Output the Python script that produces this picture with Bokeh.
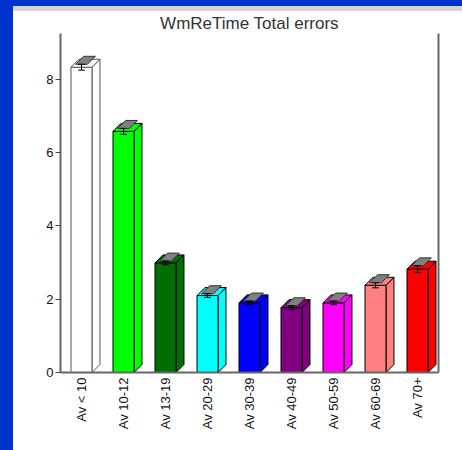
import math
from bokeh.plotting import figure
from bokeh.models import Range1d, FixedTicker, LinearAxis
from bokeh.embed import file_html
from bokeh.resources import INLINE

# ---- data ----
categories = ["Av < 10", "Av 10-12", "Av 13-19", "Av 20-29", "Av 30-39",
              "Av 40-49", "Av 50-59", "Av 60-69", "Av 70+"]
means = [8.33, 6.58, 2.99, 2.10, 1.90, 1.77, 1.90, 2.38, 2.82]
errors = [0.08, 0.08, 0.05, 0.05, 0.05, 0.05, 0.05, 0.07, 0.09]
y_ticks = [0, 2, 4, 6, 8]

# ---- styles ----
colors = ["#FFFFFF", "#00FF00", "#006E00", "#00FFFF", "#0000FF",
          "#800080", "#FF00FF", "#FF8080", "#FF0000"]
outlines = ["#555555"] + ["#000000"] * 8
FONT = "Liberation Sans"

n = len(categories)
centers = [i + 0.5 for i in range(n)]
half = 0.25          # half width of front face (slot units)
dx, dy = 0.19, 0.218  # 3D depth offset in data units (~8px each way)
sw = 0.14            # half width of gray error slab

p = figure(width=462, height=450, output_backend="svg", toolbar_location=None,
           x_range=Range1d(0, n), y_range=Range1d(0, 9.25),
           min_border_left=60, min_border_right=24, min_border_top=33,
           min_border_bottom=78, title="WmReTime Total errors")
p.styles = {"background": "linear-gradient(to right, #0033CC 13px, transparent 13px), "
                          "linear-gradient(to bottom, #0033CC 6px, #D4D4D4 6px, "
                          "#D4D4D4 11px, #FFFFFF 11px)"}
p.background_fill_color = "white"
p.border_fill_color = None
p.outline_line_color = None
p.xgrid.visible = False
p.ygrid.visible = False

p.title.align = "center"
p.title.text_font = FONT
p.title.text_font_size = "17px"
p.title.text_font_style = "normal"
p.title.text_color = "#333333"
p.title.standoff = 1

side_xs, side_ys, top_xs, top_ys, slab_xs, slab_ys = [], [], [], [], [], []
for c, v, e in zip(centers, means, errors):
    l, r = c - half, c + half
    side_xs.append([r, r + dx, r + dx, r])
    side_ys.append([0, dy, v + dy, v])
    top_xs.append([l, l + dx, r + dx, r])
    top_ys.append([v, v + dy, v + dy, v])
    slab_xs.append([c - sw, c - sw + dx, c + sw + dx, c + sw])
    slab_ys.append([v + e, v + e + dy, v + e + dy, v + e])

p.patches(side_xs, side_ys, fill_color=colors, line_color=outlines, line_width=1)
p.vbar(x=centers, width=2 * half, top=means, bottom=0,
       fill_color=colors, line_color=outlines, line_width=1)
p.patches(top_xs, top_ys, fill_color=colors, line_color=outlines, line_width=1)
p.patches(slab_xs, slab_ys, fill_color="#808080", line_color="#333333", line_width=1)

# front error bars (I shape)
lo = [v - e for v, e in zip(means, errors)]
hi = [v + e for v, e in zip(means, errors)]
p.segment(x0=centers, y0=lo, x1=centers, y1=hi, line_color="black", line_width=1)
p.segment(x0=[c - 0.08 for c in centers], y0=lo, x1=[c + 0.08 for c in centers], y1=lo,
          line_color="black", line_width=1)
p.segment(x0=[c - 0.08 for c in centers], y0=hi, x1=[c + 0.08 for c in centers], y1=hi,
          line_color="black", line_width=1)

# axes
yax = p.yaxis[0]
yax.ticker = FixedTicker(ticks=y_ticks)
yax.axis_line_color = "#666666"
yax.axis_line_width = 2
yax.major_tick_in = 0
yax.major_tick_out = 5
yax.major_tick_line_color = "#444444"
yax.minor_tick_line_color = None
yax.major_label_standoff = 2
yax.major_label_text_font = FONT
yax.major_label_text_font_size = "13px"
yax.major_label_text_color = "#111111"

xax = p.xaxis[0]
xax.ticker = FixedTicker(ticks=centers)
xax.major_label_overrides = {c: lab for c, lab in zip(centers, categories)}
xax.major_label_orientation = math.pi / 2
xax.axis_line_color = "#666666"
xax.axis_line_width = 2
xax.major_tick_line_color = None
xax.minor_tick_line_color = None
xax.major_tick_in = 0
xax.major_tick_out = 0
xax.major_label_standoff = 5
xax.major_label_text_font = FONT
xax.major_label_text_font_size = "13px"
xax.major_label_text_color = "#111111"

rax = LinearAxis(ticker=FixedTicker(ticks=[]), axis_line_color="#666666",
                 axis_line_width=2, major_tick_line_color=None,
                 minor_tick_line_color=None, major_label_text_font_size="0px")
p.add_layout(rax, "right")

open("out.html", "w").write(file_html(p, INLINE))
